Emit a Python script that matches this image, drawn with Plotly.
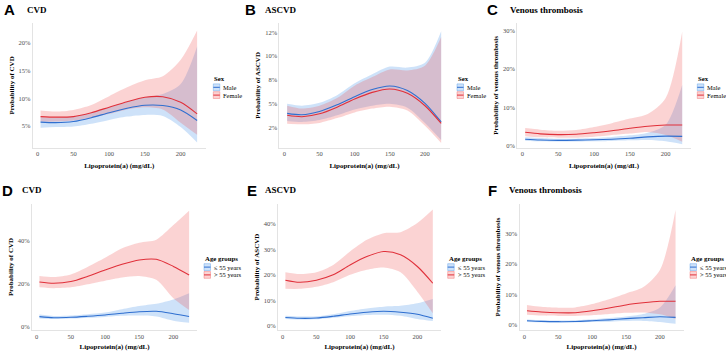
import plotly.graph_objects as go

# ---------------- data (percent) ----------------
LPA = [4, 25, 50, 75, 100, 125, 150, 175, 200, 223]
X_TICKS = [0, 50, 100, 150, 200]

# A: CVD by sex
A_MALE = [5.7, 5.6, 5.8, 6.5, 7.4, 8.2, 8.75, 8.7, 7.9, 6.0]
A_MALE_LO = [4.7, 4.8, 4.9, 5.4, 6.1, 6.7, 7.0, 6.8, 4.8, 2.0]
A_MALE_HI = [6.6, 6.5, 6.7, 7.4, 8.4, 9.4, 10.2, 10.8, 12.6, 19.4]
A_FEMALE = [6.7, 6.6, 6.7, 7.4, 8.4, 9.4, 10.2, 10.3, 9.3, 7.2]
A_FEMALE_LO = [5.8, 5.8, 6.0, 6.5, 7.2, 8.0, 8.4, 8.0, 5.6, 3.4]
A_FEMALE_HI = [7.8, 7.6, 7.9, 8.8, 10.4, 12.0, 13.3, 14.0, 17.0, 22.3]

# B: ASCVD by sex
B_MALE = [4.0, 3.85, 4.2, 4.9, 5.75, 6.5, 6.87, 6.4, 5.05, 3.1]
B_MALE_LO = [3.2, 3.1, 3.3, 3.8, 4.4, 4.8, 5.0, 4.6, 3.0, 1.2]
B_MALE_HI = [5.0, 4.8, 5.1, 5.9, 7.15, 8.1, 8.9, 8.8, 9.3, 12.6]
B_FEMALE = [3.8, 3.65, 3.95, 4.65, 5.5, 6.2, 6.56, 6.1, 4.8, 2.95]
B_FEMALE_LO = [2.9, 2.85, 3.0, 3.5, 4.1, 4.5, 4.7, 4.3, 2.7, 0.9]
B_FEMALE_HI = [4.8, 4.5, 4.8, 5.6, 6.9, 7.8, 8.6, 8.5, 9.0, 12.0]

# C: Venous thrombosis by sex
C_MALE = [1.7, 1.5, 1.4, 1.45, 1.55, 1.7, 1.95, 2.3, 2.5, 2.45]
C_MALE_LO = [1.3, 1.15, 1.1, 1.1, 1.15, 1.25, 1.4, 1.5, 1.15, 0.4]
C_MALE_HI = [2.2, 2.0, 1.8, 1.85, 2.0, 2.3, 2.7, 3.4, 5.5, 15.9]
C_FEMALE = [3.5, 3.1, 2.9, 3.0, 3.4, 3.9, 4.55, 5.1, 5.4, 5.4]
C_FEMALE_LO = [2.5, 2.2, 2.1, 2.1, 2.35, 2.8, 3.2, 3.6, 2.8, 1.05]
C_FEMALE_HI = [4.6, 4.2, 3.9, 4.1, 4.9, 5.9, 7.1, 8.3, 12.5, 29.8]

# D: CVD by age group
D_YOUNG = [4.5, 4.0, 4.2, 4.7, 5.3, 6.1, 6.8, 7.0, 5.9, 4.6]
D_YOUNG_LO = [3.6, 3.4, 3.6, 4.0, 4.4, 4.9, 5.0, 4.6, 2.6, 1.6]
D_YOUNG_HI = [5.5, 4.8, 5.0, 5.6, 6.4, 8.0, 9.5, 10.5, 12.5, 15.4]
D_OLD = [20.7, 20.1, 20.9, 23.4, 26.3, 29.0, 31.0, 31.3, 28.0, 24.0]
D_OLD_LO = [18.2, 17.8, 18.2, 19.6, 21.3, 22.8, 23.5, 21.7, 13.1, 7.6]
D_OLD_HI = [23.5, 23.0, 24.2, 27.8, 32.0, 36.5, 39.1, 40.5, 47.3, 54.0]

# E: ASCVD by age group
E_YOUNG = [3.2, 2.9, 3.0, 3.7, 4.6, 5.3, 5.7, 5.3, 4.5, 2.9]
E_YOUNG_LO = [2.6, 2.4, 2.5, 3.1, 3.7, 4.2, 4.3, 3.9, 2.6, 1.8]
E_YOUNG_HI = [3.9, 3.6, 3.7, 4.5, 5.8, 6.8, 7.5, 7.8, 8.8, 10.5]
E_OLD = [17.9, 17.1, 17.9, 20.0, 23.9, 27.2, 29.2, 27.9, 23.3, 16.7]
E_OLD_LO = [14.5, 14.5, 15.3, 17.1, 20.0, 22.0, 22.9, 21.0, 13.4, 4.9]
E_OLD_HI = [21.0, 20.3, 21.0, 23.9, 29.2, 33.8, 36.4, 36.8, 40.4, 45.7]

# F: Venous thrombosis by age group
F_YOUNG = [1.3, 1.1, 1.0, 1.05, 1.3, 1.6, 2.0, 2.3, 2.6, 2.4]
F_YOUNG_LO = [0.9, 0.8, 0.7, 0.75, 0.85, 1.0, 1.2, 1.25, 0.9, 0.3]
F_YOUNG_HI = [1.7, 1.5, 1.4, 1.45, 1.8, 2.2, 2.7, 3.5, 5.7, 13.0]
F_OLD = [4.6, 4.2, 3.95, 3.95, 4.6, 5.5, 6.5, 7.2, 7.7, 7.7]
F_OLD_LO = [3.3, 3.0, 2.9, 2.9, 3.1, 3.5, 3.9, 4.0, 3.4, 1.9]
F_OLD_HI = [6.5, 5.9, 5.6, 5.7, 6.8, 8.4, 10.3, 12.3, 18.0, 37.7]

LETTERS = ["A", "B", "C", "D", "E", "F"]
TITLES = ["CVD", "ASCVD", "Venous thrombosis", "CVD", "ASCVD", "Venous thrombosis"]
Y_TITLES = ["Probability of CVD", "Probability of ASCVD", "Probability of venous thrombosis",
            "Probability of CVD", "Probability of ASCVD", "Probability of venous thrombosis"]
X_TITLE = "Lipoprotein(a) (mg/dL)"
SEX_LEGEND = "Sex"
SEX_LABELS = ["Male", "Female"]
AGE_LEGEND = "Age groups"
AGE_LABELS = ["\u2264 55 years", "> 55 years"]

A_YTICKS = [5, 10, 15, 20]
A_YTICKTEXT = ["5%", "10%", "15%", "20%"]
B_YTICKS = [2.5, 5, 7.5, 10, 12.5]
B_YTICKTEXT = ["2%", "5%", "8%", "10%", "12%"]
C_YTICKS = [0, 10, 20, 30]
C_YTICKTEXT = ["0%", "10%", "20%", "30%"]
D_YTICKS = [0, 20, 40]
D_YTICKTEXT = ["0%", "20%", "40%"]
E_YTICKS = [0, 10, 20, 30, 40]
E_YTICKTEXT = ["0%", "10%", "20%", "30%", "40%"]
F_YTICKS = [0, 10, 20, 30]
F_YTICKTEXT = ["0%", "10%", "20%", "30%"]

# ---------------- styling ----------------
W, H = 726, 351
BLUE = "#2F6FD0"
RED = "#E0303A"
BLUE_BAND = "rgba(60,140,230,0.25)"
RED_BAND = "rgba(240,80,80,0.25)"
BLUE_KEY_EDGE = "rgba(60,140,230,0.6)"
RED_KEY_EDGE = "rgba(240,80,80,0.6)"
SERIF = "Liberation Serif, Times New Roman, serif"
SANS = "Liberation Sans, Arial, sans-serif"
TICK_COLOR = "#4d4d4d"
AXIS_LINE = "#e3e3e3"


def fx(p):
    return p / W


def fy(p):
    return 1 - p / H


panels = [
    dict(groups=[(A_MALE, A_MALE_LO, A_MALE_HI), (A_FEMALE, A_FEMALE_LO, A_FEMALE_HI)],
         yrange=[1.1, 23.6], yticks=A_YTICKS, yticktext=A_YTICKTEXT,
         xpx=(32.7, 205.7), ypx=(23.3, 147.5), legend=(SEX_LEGEND, SEX_LABELS), legx=213.3),
    dict(groups=[(B_MALE, B_MALE_LO, B_MALE_HI), (B_FEMALE, B_FEMALE_LO, B_FEMALE_HI)],
         yrange=[0.42, 13.44], yticks=B_YTICKS, yticktext=B_YTICKTEXT,
         xpx=(279.4, 449.6), ypx=(23.3, 147.5), legend=(SEX_LEGEND, SEX_LABELS), legx=457.0),
    dict(groups=[(C_MALE, C_MALE_LO, C_MALE_HI), (C_FEMALE, C_FEMALE_LO, C_FEMALE_HI)],
         yrange=[-0.47, 32.0], yticks=C_YTICKS, yticktext=C_YTICKTEXT,
         xpx=(517.3, 690.8), ypx=(23.3, 147.5), legend=(SEX_LEGEND, SEX_LABELS), legx=697.3),
    dict(groups=[(D_YOUNG, D_YOUNG_LO, D_YOUNG_HI), (D_OLD, D_OLD_LO, D_OLD_HI)],
         yrange=[-1.73, 57.15], yticks=D_YTICKS, yticktext=D_YTICKTEXT,
         xpx=(31.9, 197.3), ypx=(204.0, 330.0), legend=(AGE_LEGEND, AGE_LABELS), legx=204.0),
    dict(groups=[(E_YOUNG, E_YOUNG_LO, E_YOUNG_HI), (E_OLD, E_OLD_LO, E_OLD_HI)],
         yrange=[-1.7, 47.9], yticks=E_YTICKS, yticktext=E_YTICKTEXT,
         xpx=(278.0, 440.9), ypx=(204.0, 330.0), legend=(AGE_LEGEND, AGE_LABELS), legx=447.7),
    dict(groups=[(F_YOUNG, F_YOUNG_LO, F_YOUNG_HI), (F_OLD, F_OLD_LO, F_OLD_HI)],
         yrange=[-1.74, 39.7], yticks=F_YTICKS, yticktext=F_YTICKTEXT,
         xpx=(519.5, 683.7), ypx=(204.0, 330.0), legend=(AGE_LEGEND, AGE_LABELS), legx=690.0),
]

LETTER_POS = [(2, 10), (243, 10), (485, 10), (0, 190), (245, 190), (486, 190)]
TITLE_POS = [(25, 10), (263.3, 10), (508.3, 10), (20, 190), (263.3, 190), (506.7, 190)]

fig = go.Figure()
annotations = []
shapes = []
layout = {}

colors = [(BLUE, BLUE_BAND, BLUE_KEY_EDGE), (RED, RED_BAND, RED_KEY_EDGE)]
SPLINE = dict(shape="spline", smoothing=0.8)

for i, p in enumerate(panels):
    n = i + 1
    xa = "x" if n == 1 else f"x{n}"
    ya = "y" if n == 1 else f"y{n}"
    # confidence ribbons: lower bound, then upper bound filled down to it
    for (mid, lo, hi), (lc, bc, ec) in zip(p["groups"], colors):
        fig.add_trace(go.Scatter(
            x=LPA, y=lo, xaxis=xa, yaxis=ya, mode="lines",
            line=dict(width=0, color=bc, **SPLINE), hoverinfo="skip", showlegend=False))
        fig.add_trace(go.Scatter(
            x=LPA, y=hi, xaxis=xa, yaxis=ya, mode="lines",
            line=dict(width=0, color=bc, **SPLINE), fill="tonexty", fillcolor=bc,
            hoverinfo="skip", showlegend=False))
    # fitted lines
    for (mid, lo, hi), (lc, bc, ec), name in zip(p["groups"], colors, p["legend"][1]):
        fig.add_trace(go.Scatter(
            x=LPA, y=mid, xaxis=xa, yaxis=ya, name=name,
            mode="lines", line=dict(color=lc, width=1.1, **SPLINE),
            showlegend=False))

    x0, x1 = p["xpx"]
    y0, y1 = p["ypx"]
    xkey = "xaxis" if n == 1 else f"xaxis{n}"
    ykey = "yaxis" if n == 1 else f"yaxis{n}"
    layout[xkey] = dict(
        domain=[fx(x0), fx(x1)], anchor=ya, range=[-7, 235],
        tickvals=X_TICKS, showgrid=False, zeroline=False, showline=True,
        linecolor=AXIS_LINE, linewidth=1, ticks="",
        tickfont=dict(family=SERIF, size=6.5, color=TICK_COLOR),
        title=dict(text=X_TITLE, font=dict(family=SERIF, size=7, color="black", weight="bold"),
                   standoff=6))
    layout[ykey] = dict(
        domain=[fy(y1), fy(y0)], anchor=xa, range=p["yrange"],
        tickvals=p["yticks"], ticktext=p["yticktext"],
        showgrid=False, zeroline=False, showline=True,
        linecolor=AXIS_LINE, linewidth=1, ticks="",
        tickfont=dict(family=SERIF, size=6.5, color=TICK_COLOR),
        title=dict(text=Y_TITLES[i], font=dict(family=SERIF, size=7, color="black", weight="bold"),
                   standoff=3))

    # panel letter and title
    lx, ly = LETTER_POS[i]
    annotations.append(dict(text=f"<b>{LETTERS[i]}</b>", x=fx(lx), y=fy(ly), xref="paper", yref="paper",
                            xanchor="left", yanchor="middle", showarrow=False,
                            font=dict(family=SANS, size=15, color="black")))
    tx, ty = TITLE_POS[i]
    annotations.append(dict(text=f"<b>{TITLES[i]}</b>", x=fx(tx), y=fy(ty), xref="paper", yref="paper",
                            xanchor="left", yanchor="middle", showarrow=False,
                            font=dict(family=SERIF, size=9, color="black")))

    # legend (keys + text)
    title, labels = p["legend"]
    legx = p["legx"]
    top = 78.5 if n <= 3 else 258.3
    annotations.append(dict(text=f"<b>{title}</b>", x=fx(legx - 1), y=fy(top), xref="paper", yref="paper",
                            xanchor="left", yanchor="middle", showarrow=False,
                            font=dict(family=SERIF, size=6.8, color="black")))
    for k, (lab, (lc, bc, ec)) in enumerate(zip(labels, colors)):
        cy = top + 8.8 + k * 7.8
        shapes.append(dict(type="rect", xref="paper", yref="paper",
                           x0=fx(legx), x1=fx(legx + 6.5), y0=fy(cy + 3.4), y1=fy(cy - 3.4),
                           fillcolor=bc, line=dict(width=0.6, color=ec)))
        shapes.append(dict(type="line", xref="paper", yref="paper",
                           x0=fx(legx), x1=fx(legx + 6.5), y0=fy(cy), y1=fy(cy),
                           line=dict(color=lc, width=1)))
        annotations.append(dict(text=lab, x=fx(legx + 8), y=fy(cy), xref="paper", yref="paper",
                                xanchor="left", yanchor="middle", showarrow=False,
                                font=dict(family=SERIF, size=6.5, color="black")))

fig.update_layout(
    width=W, height=H, margin=dict(l=0, r=0, t=0, b=0),
    paper_bgcolor="white", plot_bgcolor="white", showlegend=False,
    annotations=annotations, shapes=shapes, **layout)

fig.write_html("out.html", config={"displayModeBar": False},
               post_script="document.body.style.margin='0';document.body.style.overflow='hidden';")
